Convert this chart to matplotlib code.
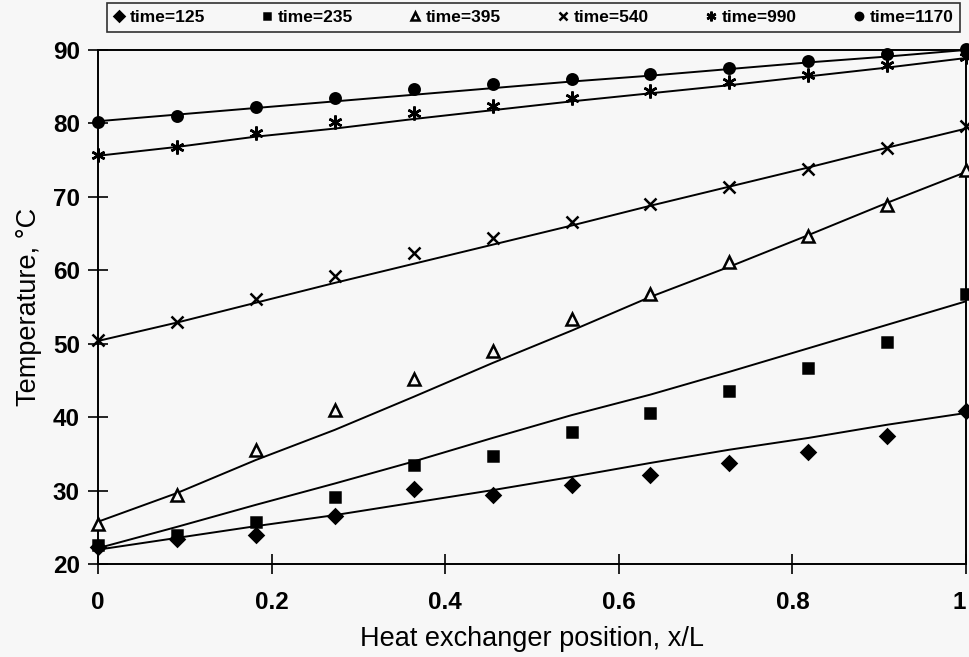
import matplotlib.pyplot as plt

# positions along the exchanger (12 measurement points, x/L)
pos = [i / 11 for i in range(12)]

times = ["125", "235", "395", "540", "990", "1170"]

# measured temperatures (deg C)
t125 = [22.4, 23.4, 24.0, 26.6, 30.2, 29.4, 30.8, 32.1, 33.8, 35.3, 37.5, 40.9]
t235 = [22.6, 24.0, 25.8, 29.1, 33.5, 34.8, 38.0, 40.6, 43.6, 46.7, 50.3, 56.8]
t395 = [25.5, 29.5, 35.6, 41.0, 45.2, 49.0, 53.4, 56.8, 61.1, 64.7, 68.9, 73.7]
t540 = [50.5, 53.0, 56.1, 59.2, 62.3, 64.4, 66.6, 69.1, 71.4, 73.8, 76.6, 79.6]
t990 = [75.7, 76.8, 78.7, 80.2, 81.4, 82.4, 83.5, 84.4, 85.7, 86.6, 88.0, 89.1]
t1170 = [80.2, 81.0, 82.2, 83.5, 84.7, 85.4, 86.0, 86.7, 87.6, 88.5, 89.5, 90.1]

# fitted curves
f125 = [22.0, 23.6, 25.2, 26.7, 28.4, 30.1, 31.9, 33.8, 35.6, 37.2, 39.0, 40.6]
f235 = [22.2, 25.1, 28.1, 31.0, 34.0, 37.2, 40.3, 43.1, 46.2, 49.4, 52.6, 55.8]
f395 = [25.8, 29.7, 34.2, 38.3, 42.8, 47.4, 51.8, 56.4, 60.5, 64.8, 69.2, 73.4]
f540 = [50.4, 52.9, 55.6, 58.3, 60.9, 63.5, 66.1, 68.8, 71.4, 74.0, 76.7, 79.3]
f990 = [75.6, 76.8, 78.2, 79.3, 80.6, 81.8, 83.0, 84.1, 85.2, 86.4, 87.6, 88.9]
f1170 = [80.3, 81.2, 82.1, 83.0, 83.9, 84.8, 85.7, 86.5, 87.4, 88.3, 89.1, 90.0]

meas = [t125, t235, t395, t540, t990, t1170]
fits = [f125, f235, f395, f540, f990, f1170]
markers = ["D", "s", "^", "x", (6, 2, 0), "o"]
sizes = [7, 7, 8, 9, 10, 7.5]
filled = [True, True, False, True, True, True]

plt.rcParams['font.family'] = ['Liberation Sans', 'DejaVu Sans']
bg = "#f7f7f7"

fig = plt.figure(figsize=(9.7, 6.57), dpi=100, facecolor=bg)
ax = fig.add_axes([0.101, 0.141, 0.895, 0.783], facecolor=bg)

handles = []
for i in range(6):
    ax.plot(pos, fits[i], color="black", lw=1.4, zorder=2)
    h, = ax.plot(pos, meas[i], linestyle="none", marker=markers[i],
                 markersize=sizes[i], color="black",
                 markerfacecolor="black" if filled[i] else bg,
                 markeredgewidth=1.8, zorder=3, clip_on=False,
                 label="time=" + times[i])
    handles.append(h)

ax.set_xlim(0, 1)
ax.set_ylim(20, 90)
ax.set_xticks([0, 0.2, 0.4, 0.6, 0.8, 1])
ax.set_xticklabels(["0", "0.2", "0.4", "0.6", "0.8", "1"])
ax.set_yticks(range(20, 91, 10))
ax.tick_params(direction="inout", length=14, width=1.2, labelsize=17.5)
ax.tick_params(axis="x", pad=12)
ax.tick_params(axis="y", pad=6)
for lab in ax.get_xticklabels() + ax.get_yticklabels():
    lab.set_fontweight("bold")
ax.get_xticklabels()[-1].set_horizontalalignment("right")
for s in ax.spines.values():
    s.set_linewidth(1.4)

ax.set_xlabel("Heat exchanger position, x/L", fontsize=19.5, labelpad=9)
ax.set_ylabel("Temperature, °C", fontsize=19.5, labelpad=8)

leg = fig.legend(handles=handles, loc="upper left", ncol=6, mode="expand",
                 frameon=True, fancybox=False, borderpad=0.4, borderaxespad=0,
                 handlelength=0.6, handletextpad=0.3, columnspacing=0.8,
                 markerscale=0.7, prop={"size": 12.5, "weight": "bold"})
leg.set_bbox_to_anchor((0.110, 0.995, 0.880, 0.0), transform=fig.transFigure)
leg.get_frame().set_edgecolor("black")
leg.get_frame().set_linewidth(1.2)
leg.get_frame().set_facecolor(bg)

fig.savefig("out.png", dpi=100, facecolor=bg)
